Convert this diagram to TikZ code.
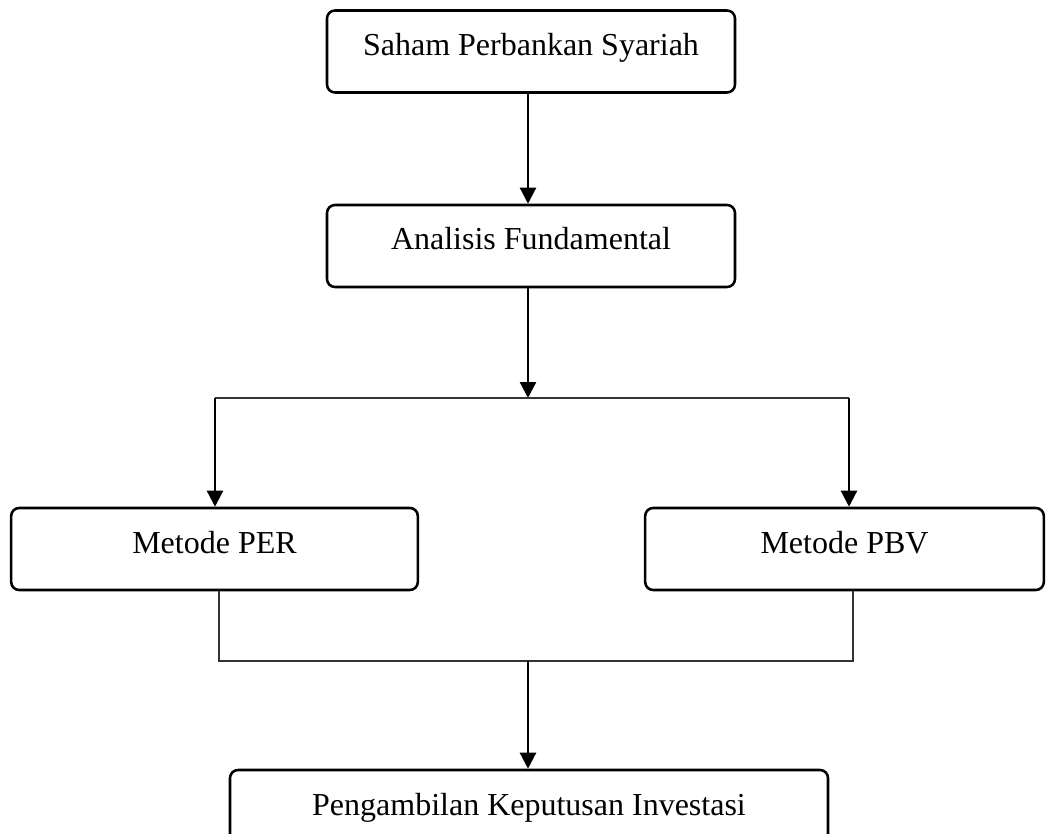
\documentclass[tikz,border=0pt]{standalone}
\usepackage{fontspec}
\setmainfont{Liberation Serif}
\usepackage{tikz}
\usetikzlibrary{positioning}
\usetikzlibrary{calc}
\usetikzlibrary{arrows.meta}

\begin{document}
\begin{tikzpicture}[
		x=0.75pt, y=-0.75pt,
		procbox/.style={
			shape=rectangle,
			draw,
			line width=1.9pt,
			rounded corners=6pt,
			align=center,
			inner sep=0pt,
			text height=16pt,
			text depth=10pt,
			minimum height=61.5pt,
			font=\fontsize{24}{28}\selectfont
		},
		flow/.style={-{Triangle[width=12pt, length=12pt]}, line width=1.7pt},
		link/.style={line width=0.9pt, draw=black!80}
		]
		\path[use as bounding box, clip] (0,0) rectangle (1046,834);
		\node[procbox, minimum width=306pt] (saham) at (531,51.5) {Saham Perbankan Syariah};
		\node[procbox, minimum width=306pt] (analisis) at (531,246) {Analisis Fundamental};
		\node[procbox, minimum width=305pt] (per) at (214.5,549) {Metode PER};
		\node[procbox, minimum width=299pt] (pbv) at (844.5,549) {Metode PBV};
		\node[procbox, minimum width=448.5pt] (keputusan) at (529,811) {Pengambilan Keputusan Investasi};
		\coordinate (trunk) at (528,398);
		\coordinate (splitL) at (215,398);
		\coordinate (splitR) at (849,398);
		\coordinate (joinL) at (219,661);
		\coordinate (joinR) at (853,661);
		\coordinate (merge) at (528,661);
		\draw[flow] (saham.south -| trunk) -- (analisis.north -| trunk);
		\draw[flow] (analisis.south -| trunk) -- (trunk);
		\draw[link] (splitL) -- (splitR);
		\draw[flow] (splitL) -- (per.north -| splitL);
		\draw[flow] (splitR) -- (pbv.north -| splitR);
		\draw[link] (per.south -| joinL) -- (joinL) -- (joinR) -- (pbv.south -| joinR);
		\draw[flow] (merge) -- (keputusan.north -| merge);
	\end{tikzpicture}
\end{document}
